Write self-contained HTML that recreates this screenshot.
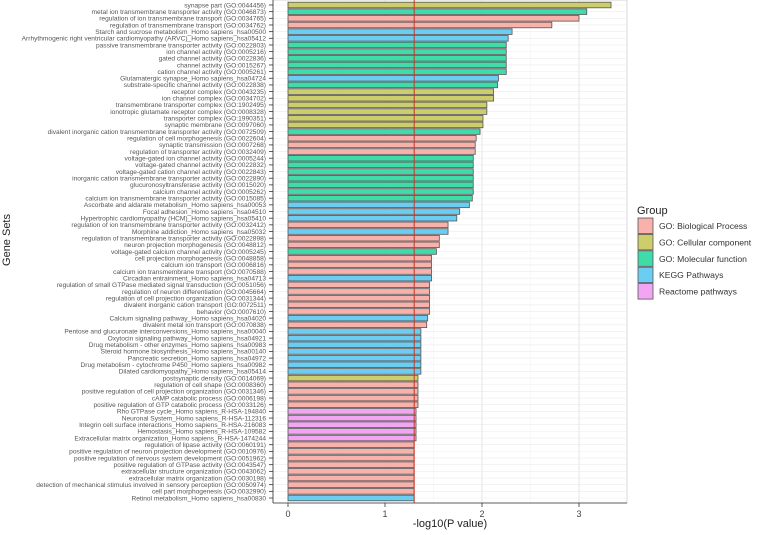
<!DOCTYPE html>
<html><head><meta charset="utf-8"><style>
body{margin:0;background:#fff;width:760px;height:535px;overflow:hidden;font-family:"Liberation Sans",Arial,sans-serif}
svg{display:block}
</style></head><body>
<svg id="chart" width="760" height="535" viewBox="0 0 760 535" xmlns="http://www.w3.org/2000/svg">
<rect x="0" y="0" width="760" height="535" fill="#fff"/>
<g id="grid"></g>
<g id="bars"></g>
<g id="ylabels"></g>
<g id="xaxis"></g>
<text x="10" y="240" transform="rotate(-90 10 240)" font-size="11" text-anchor="middle" fill="#222">Gene Sets</text>
<text x="450" y="527" font-size="11" text-anchor="middle" fill="#222">-log10(P value)</text>
<g id="legend"><text x="637" y="214" font-size="11" fill="#222">Group</text></g>
</svg>
<script>
const categories = [
"synapse part (GO:0044456)","metal ion transmembrane transporter activity (GO:0046873)","regulation of ion transmembrane transport (GO:0034765)","regulation of transmembrane transport (GO:0034762)","Starch and sucrose metabolism_Homo sapiens_hsa00500","Arrhythmogenic right ventricular cardiomyopathy (ARVC)_Homo sapiens_hsa05412","passive transmembrane transporter activity (GO:0022803)","ion channel activity (GO:0005216)","gated channel activity (GO:0022836)","channel activity (GO:0015267)","cation channel activity (GO:0005261)","Glutamatergic synapse_Homo sapiens_hsa04724","substrate-specific channel activity (GO:0022838)","receptor complex (GO:0043235)","ion channel complex (GO:0034702)","transmembrane transporter complex (GO:1902495)","ionotropic glutamate receptor complex (GO:0008328)","transporter complex (GO:1990351)","synaptic membrane (GO:0097060)","divalent inorganic cation transmembrane transporter activity (GO:0072509)","regulation of cell morphogenesis (GO:0022604)","synaptic transmission (GO:0007268)","regulation of transporter activity (GO:0032409)","voltage-gated ion channel activity (GO:0005244)","voltage-gated channel activity (GO:0022832)","voltage-gated cation channel activity (GO:0022843)","inorganic cation transmembrane transporter activity (GO:0022890)","glucuronosyltransferase activity (GO:0015020)","calcium channel activity (GO:0005262)","calcium ion transmembrane transporter activity (GO:0015085)","Ascorbate and aldarate metabolism_Homo sapiens_hsa00053","Focal adhesion_Homo sapiens_hsa04510","Hypertrophic cardiomyopathy (HCM)_Homo sapiens_hsa05410","regulation of ion transmembrane transporter activity (GO:0032412)","Morphine addiction_Homo sapiens_hsa05032","regulation of transmembrane transporter activity (GO:0022898)","neuron projection morphogenesis (GO:0048812)","voltage-gated calcium channel activity (GO:0005245)","cell projection morphogenesis (GO:0048858)","calcium ion transport (GO:0006816)","calcium ion transmembrane transport (GO:0070588)","Circadian entrainment_Homo sapiens_hsa04713","regulation of small GTPase mediated signal transduction (GO:0051056)","regulation of neuron differentiation (GO:0045664)","regulation of cell projection organization (GO:0031344)","divalent inorganic cation transport (GO:0072511)","behavior (GO:0007610)","Calcium signaling pathway_Homo sapiens_hsa04020","divalent metal ion transport (GO:0070838)","Pentose and glucuronate interconversions_Homo sapiens_hsa00040","Oxytocin signaling pathway_Homo sapiens_hsa04921","Drug metabolism - other enzymes_Homo sapiens_hsa00983","Steroid hormone biosynthesis_Homo sapiens_hsa00140","Pancreatic secretion_Homo sapiens_hsa04972","Drug metabolism - cytochrome P450_Homo sapiens_hsa00982","Dilated cardiomyopathy_Homo sapiens_hsa05414","postsynaptic density (GO:0014069)","regulation of cell shape (GO:0008360)","positive regulation of cell projection organization (GO:0031346)","cAMP catabolic process (GO:0006198)","positive regulation of GTP catabolic process (GO:0033126)","Rho GTPase cycle_Homo sapiens_R-HSA-194840","Neuronal System_Homo sapiens_R-HSA-112316","Integrin cell surface interactions_Homo sapiens_R-HSA-216083","Hemostasis_Homo sapiens_R-HSA-109582","Extracellular matrix organization_Homo sapiens_R-HSA-1474244","regulation of lipase activity (GO:0060191)","positive regulation of neuron projection development (GO:0010976)","positive regulation of nervous system development (GO:0051962)","positive regulation of GTPase activity (GO:0043547)","extracellular structure organization (GO:0043062)","extracellular matrix organization (GO:0030198)","detection of mechanical stimulus involved in sensory perception (GO:0050974)","cell part morphogenesis (GO:0032990)","Retinol metabolism_Homo sapiens_hsa00830"];
const groups = ["CC","MF","BP","BP","KEGG","KEGG","MF","MF","MF","MF","MF","KEGG","MF","CC","CC","CC","CC","CC","CC","MF","BP","BP","BP","MF","MF","MF","MF","MF","MF","MF","KEGG","KEGG","KEGG","BP","KEGG","BP","BP","MF","BP","BP","BP","KEGG","BP","BP","BP","BP","BP","KEGG","BP","KEGG","KEGG","KEGG","KEGG","KEGG","KEGG","KEGG","CC","BP","BP","BP","BP","R","R","R","R","R","BP","BP","BP","BP","BP","BP","BP","BP","KEGG"];
const values = [3.33,3.08,3.00,2.72,2.31,2.27,2.25,2.25,2.25,2.25,2.25,2.17,2.16,2.12,2.12,2.05,2.05,2.01,2.01,1.98,1.94,1.93,1.93,1.91,1.91,1.91,1.91,1.91,1.91,1.90,1.87,1.77,1.74,1.65,1.65,1.56,1.56,1.53,1.48,1.48,1.48,1.48,1.46,1.46,1.46,1.46,1.46,1.44,1.43,1.37,1.37,1.37,1.37,1.37,1.37,1.37,1.34,1.34,1.34,1.34,1.34,1.32,1.32,1.32,1.32,1.32,1.30,1.30,1.30,1.30,1.30,1.30,1.30,1.30,1.30];
const xTicks = [0,1,2,3];
const threshold = 1.301;
const legendKeys = ["BP","CC","MF","KEGG","R"];
const legendLabels = ["GO: Biological Process","GO: Cellular component","GO: Molecular function","KEGG Pathways","Reactome pathways"];
const colors = {BP:"#F8B1AB",CC:"#CDCD6C",MF:"#3FDCA9",KEGG:"#6CCDF2",R:"#F2A5F2"};

const NS="http://www.w3.org/2000/svg";
const P={l:273,r:627,t:0,b:503};
const x0=288, pxPer=97;
function xs(v){return x0+v*pxPer;}
const y0=5, step=(498-5)/(categories.length-1);
function ys(i){return y0+i*step;}
function mk(tag,attrs,parent){const e=document.createElementNS(NS,tag);for(const k in attrs)e.setAttribute(k,attrs[k]);parent.appendChild(e);return e;}

const grid=document.getElementById('grid');
const bg=mk('rect',{x:P.l,y:P.t,width:P.r-P.l,height:P.b-P.t,fill:'#fff',stroke:'#bbb','stroke-width':0.6},grid);


for(let v=0.5;v<=3.5;v+=1){const l=mk('line',{x1:xs(v),x2:xs(v),y1:P.t,y2:P.b,stroke:'#f2f2f2','stroke-width':0.5},grid);

}
xTicks.forEach(v=>{const l=mk('line',{x1:xs(v),x2:xs(v),y1:P.t,y2:P.b,stroke:'#e4e4e4','stroke-width':0.9},grid);

});
categories.forEach((c,i)=>{const l=mk('line',{x1:P.l,x2:P.r,y1:ys(i),y2:ys(i),stroke:'#ececec','stroke-width':0.6},grid);

});

const bars=document.getElementById('bars'), yl=document.getElementById('ylabels');
const bh=5.6;
categories.forEach((c,i)=>{
  const y=ys(i);
  const r=mk('rect',{x:xs(0),y:y-bh/2,width:xs(values[i])-xs(0),height:bh,fill:colors[groups[i]],stroke:'#555','stroke-width':0.8},bars);
  
  
  const t=mk('text',{x:266,y:y+2.3,'font-size':6.6,'text-anchor':'end',fill:'#555'},yl);
  t.textContent=c;
  
  
  const tk=mk('line',{x1:269,x2:273,y1:y,y2:y,stroke:'#333','stroke-width':0.8},yl);
  
  
});
const th=mk('line',{x1:xs(threshold),x2:xs(threshold),y1:P.t,y2:P.b,stroke:'#C0392B','stroke-width':1},bars);



const xa=document.getElementById('xaxis');
const al=mk('line',{x1:P.l,x2:P.r,y1:P.b,y2:P.b,stroke:'#333','stroke-width':0.8},xa);


const yal=mk('line',{x1:P.l,x2:P.l,y1:P.t,y2:P.b,stroke:'#333','stroke-width':0.8},xa);


xTicks.forEach(v=>{
  const l=mk('line',{x1:xs(v),x2:xs(v),y1:P.b,y2:P.b+4,stroke:'#333','stroke-width':0.8},xa);
  
  
  const t=mk('text',{x:xs(v),y:P.b+14,'font-size':9,'text-anchor':'middle',fill:'#444'},xa);
  t.textContent=v;
  
  
});

const lg=document.getElementById('legend');
legendKeys.forEach((k,i)=>{
  const y=218+i*16.4;
  const r=mk('rect',{x:638,y:y,width:15,height:15.5,fill:colors[k],stroke:'#555','stroke-width':0.8},lg);
  
  
  const t=mk('text',{x:659,y:y+11,'font-size':8.6,fill:'#333'},lg);
  t.textContent=legendLabels[i];
  
  
});
</script>
</body></html>
